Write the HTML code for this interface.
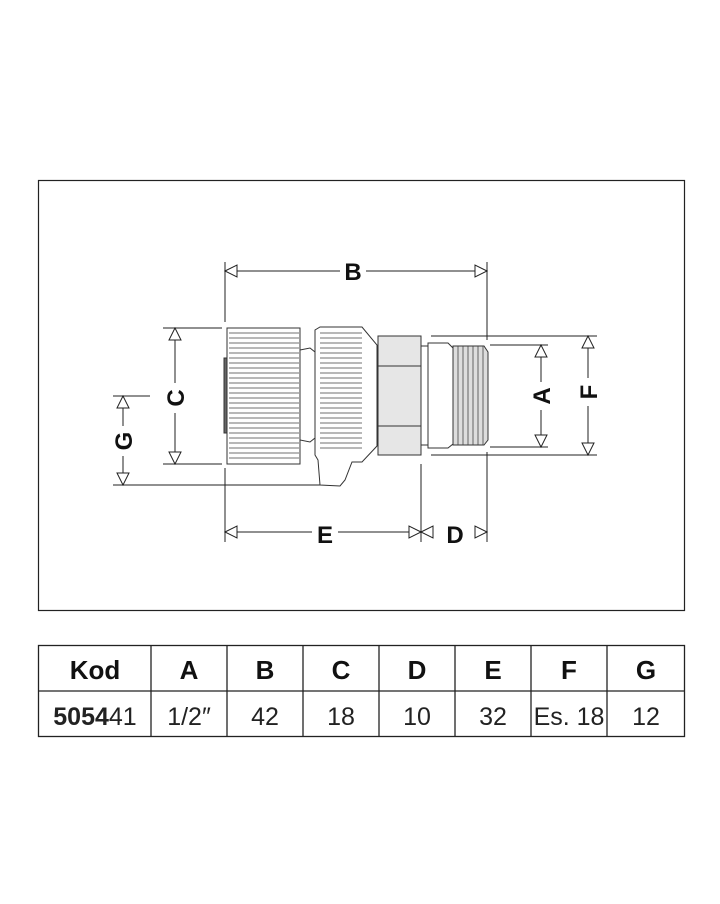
<!DOCTYPE html><html><head><style>body{margin:0;background:#fff}svg{display:block}</style></head><body>
<svg width="720" height="904" viewBox="0 0 720 904" xmlns="http://www.w3.org/2000/svg" font-family="Liberation Sans, sans-serif">
<rect x="0" y="0" width="720" height="904" fill="#fff"/>
<rect x="38.5" y="180.5" width="646" height="430" fill="none" stroke="#222" stroke-width="1.2"/>
<g stroke="#222" stroke-width="1" fill="#fff">
<!-- extension lines -->
<line x1="225" y1="262" x2="225" y2="322"/><line x1="225" y1="468" x2="225" y2="542"/>
<line x1="487" y1="262" x2="487" y2="340"/><line x1="487" y1="452" x2="487" y2="542"/>
<line x1="421" y1="464" x2="421" y2="542"/>
<line x1="163" y1="328" x2="222" y2="328"/><line x1="163" y1="464" x2="222" y2="464"/>
<line x1="113" y1="396" x2="150" y2="396"/><line x1="113" y1="485" x2="322" y2="485"/>
<line x1="431" y1="336" x2="597" y2="336"/><line x1="431" y1="455" x2="597" y2="455"/>
<line x1="490" y1="345" x2="548" y2="345"/><line x1="490" y1="447" x2="548" y2="447"/>
<!-- B -->
<line x1="225" y1="271" x2="340" y2="271"/><line x1="366" y1="271" x2="487" y2="271"/>
<path d="M225 271 L237 265 L237 277 Z"/><path d="M487 271 L475 265 L475 277 Z"/>
<!-- C -->
<line x1="175" y1="328" x2="175" y2="383"/><line x1="175" y1="413" x2="175" y2="464"/>
<path d="M175 328 L169 340 L181 340 Z"/><path d="M175 464 L169 452 L181 452 Z"/>
<!-- G -->
<line x1="123" y1="396" x2="123" y2="426"/><line x1="123" y1="456" x2="123" y2="485"/>
<path d="M123 396 L117 408 L129 408 Z"/><path d="M123 485 L117 473 L129 473 Z"/>
<!-- E / D -->
<line x1="225" y1="532" x2="312" y2="532"/><line x1="338" y1="532" x2="421" y2="532"/>
<path d="M225 532 L237 526 L237 538 Z"/><path d="M421 532 L409 526 L409 538 Z"/>
<path d="M421 532 L433 526 L433 538 Z"/><path d="M487 532 L475 526 L475 538 Z"/>
<!-- A -->
<line x1="541" y1="345" x2="541" y2="382"/><line x1="541" y1="410" x2="541" y2="447"/>
<path d="M541 345 L535 357 L547 357 Z"/><path d="M541 447 L535 435 L547 435 Z"/>
<!-- F -->
<line x1="588" y1="336" x2="588" y2="378"/><line x1="588" y1="406" x2="588" y2="455"/>
<path d="M588 336 L582 348 L594 348 Z"/><path d="M588 455 L582 443 L594 443 Z"/>
</g>
<g font-weight="bold" font-size="24" fill="#111" text-anchor="middle">
<text x="353" y="280">B</text>
<text x="325" y="543">E</text>
<text x="455" y="543">D</text>
<text transform="translate(184,398) rotate(-90)">C</text>
<text transform="translate(132,441) rotate(-90)">G</text>
<text transform="translate(550,396) rotate(-90)">A</text>
<text transform="translate(597,392) rotate(-90)">F</text>
</g>
<!-- fitting -->
<g stroke="#333" stroke-width="1" fill="#fff">
<rect x="224" y="358" width="3" height="75" fill="#666"/>
<rect x="227" y="328" width="73" height="136"/>
<path d="M300 350 L310 348 L315 352 L315 438 L310 442 L300 440 Z"/>
<path d="M320 485 L318 460 L315 455 L315 330 L320 327 L362 327 L377 345 L377 446 L362 462 L352 462 L345 480 L340 486 Z"/>
<rect x="378" y="336" width="43" height="119" fill="#e6e6e6"/>
<path d="M378 366 L421 366 M378 426 L421 426" />
<path d="M421 346 L428 346 L428 445 L421 445 Z"/>
<path d="M428 343 L448 343 L453 348 L453 444 L448 448 L428 448 Z"/>
<path d="M453 346 L484 346 L488 352 L488 440 L484 445 L453 445 Z" fill="#ddd"/>
</g>
<g stroke="#444" stroke-width="0.8">
<path d="M229 333H299M229 338H299M229 343H299M229 348H299M229 353H299M229 358H299M229 363H299M229 368H299M229 373H299M229 378H299M229 383H299M229 388H299M229 393H299M229 398H299M229 403H299M229 408H299M229 413H299M229 418H299M229 423H299M229 428H299M229 433H299M229 438H299M229 443H299M229 448H299M229 453H299M229 458H299"/>
<path d="M320 333H362M320 338H362M320 343H362M320 348H362M320 353H362M320 358H362M320 363H362M320 368H362M320 373H362M320 378H362M320 383H362M320 388H362M320 393H362M320 398H362M320 403H362M320 408H362M320 413H362M320 418H362M320 423H362M320 428H362M320 433H362M320 438H362M320 443H362M320 448H362"/>
<path d="M458 346V445M463 346V445M468 346V445M473 346V445M478 346V445M483 346V445"/>
</g>
<!-- table -->
<g stroke="#222" stroke-width="1.3" fill="none">
<rect x="38.5" y="645.5" width="646" height="91"/>
<line x1="38" y1="691" x2="684" y2="691"/>
<line x1="151" y1="645" x2="151" y2="736"/><line x1="227" y1="645" x2="227" y2="736"/>
<line x1="303" y1="645" x2="303" y2="736"/><line x1="379" y1="645" x2="379" y2="736"/>
<line x1="455" y1="645" x2="455" y2="736"/><line x1="531" y1="645" x2="531" y2="736"/>
<line x1="607" y1="645" x2="607" y2="736"/>
</g>
<g font-size="26" font-weight="bold" fill="#111" text-anchor="middle">
<text x="95" y="679">Kod</text><text x="189" y="679">A</text><text x="265" y="679">B</text>
<text x="341" y="679">C</text><text x="417" y="679">D</text><text x="493" y="679">E</text>
<text x="569" y="679">F</text><text x="646" y="679">G</text>
</g>
<g font-size="25" fill="#222" text-anchor="middle">
<text x="95" y="725"><tspan font-weight="bold">5054</tspan>41</text>
<text x="189" y="725">1/2″</text><text x="265" y="725">42</text><text x="341" y="725">18</text>
<text x="417" y="725">10</text><text x="493" y="725">32</text><text x="569" y="725">Es. 18</text>
<text x="646" y="725">12</text>
</g>
</svg>
</body></html>
